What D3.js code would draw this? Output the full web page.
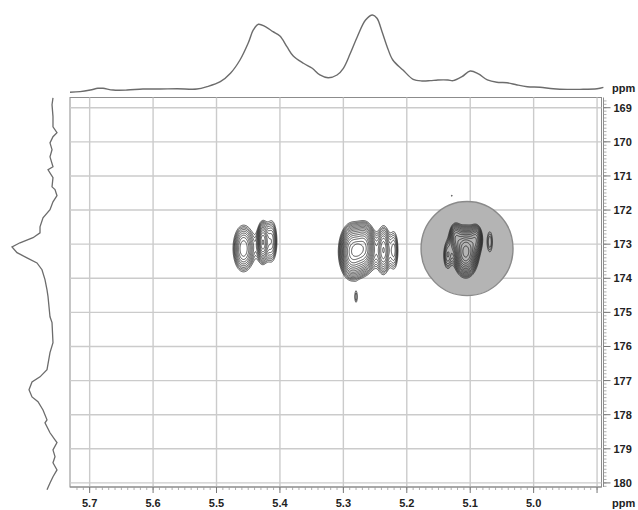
<!DOCTYPE html>
<html>
<head>
<meta charset="utf-8">
<script src="https://cdn.jsdelivr.net/npm/d3@7"></script>
<style>
  html, body { margin: 0; padding: 0; background: #fff; }
  svg { display: block; }
  text { font-family: "Liberation Sans", Arial, sans-serif; font-weight: bold; font-size: 11px; fill: #222; }
</style>
</head>
<body>
<svg id="chart" width="638" height="510"></svg>
<script>
// 1H chemical shift (ppm) gridlines / tick labels
const xTickValues = [5.7, 5.6, 5.5, 5.4, 5.3, 5.2, 5.1, 5.0];
// 13C chemical shift (ppm) gridlines / tick labels
const yTickValues = [169, 170, 171, 172, 173, 174, 175, 176, 177, 178, 179, 180];

// 1H projection (top): ppm and relative intensity
const topPpm = [5.731, 5.715, 5.699, 5.687, 5.679, 5.663, 5.641, 5.616, 5.589, 5.562, 5.531, 5.515, 5.494, 5.478, 5.463, 5.450, 5.442, 5.434, 5.423, 5.411, 5.400, 5.389, 5.379, 5.363, 5.349, 5.337, 5.324, 5.310, 5.300, 5.289, 5.278, 5.265, 5.254, 5.247, 5.239, 5.231, 5.222, 5.206, 5.190, 5.176, 5.163, 5.151, 5.135, 5.127, 5.113, 5.100, 5.087, 5.073, 5.058, 5.042, 5.026, 5.010, 4.990, 4.969, 4.947, 4.927, 4.900, 4.890];
const topIntensity = [0.9, 1.7, 3.8, 6.0, 6.0, 3.8, 3.8, 5.1, 5.1, 5.5, 5.1, 8.1, 14.5, 25.3, 42.3, 64.1, 80.8, 88.1, 85.0, 78.6, 73.1, 59.4, 47.4, 38.1, 31.7, 23.1, 19.6, 23.1, 31.7, 50.9, 72.2, 93.6, 100, 95.8, 78.6, 59.4, 42.3, 29.5, 17.6, 15.4, 15.8, 16.7, 16.7, 15.8, 20.9, 28.2, 24.4, 16.7, 13.7, 13.2, 10.3, 8.1, 7.3, 5.5, 4.7, 4.7, 5.5, 7.3];

// 13C projection (left): ppm and relative intensity
const leftPpm = [168.71, 168.91, 169.26, 169.56, 169.73, 169.85, 170.03, 170.23, 170.44, 170.73, 170.82, 171.05, 171.32, 171.40, 171.58, 171.76, 171.99, 172.23, 172.49, 172.67, 172.81, 172.96, 173.08, 173.25, 173.40, 173.55, 173.75, 174.04, 174.34, 174.54, 175.13, 175.30, 175.89, 176.18, 176.68, 176.89, 177.04, 177.27, 177.48, 177.62, 177.86, 178.15, 178.24, 178.53, 178.74, 178.82, 179.03, 179.23, 179.41, 179.62, 179.82, 180.00, 180.20];
const leftIntensity = [10.9, 13.0, 10.9, 10.9, 2.2, 10.9, 17.4, 13.0, 17.4, 10.9, 21.7, 10.9, 13.0, 6.5, 2.2, 10.9, 17.4, 32.6, 39.1, 39.1, 54.3, 82.6, 100, 89.1, 67.4, 45.7, 34.8, 28.3, 23.9, 21.7, 17.4, 13.0, 10.9, 17.4, 23.9, 39.1, 56.5, 63.0, 56.5, 43.5, 32.6, 23.9, 28.3, 17.4, 6.5, 2.2, 10.9, 6.5, 10.9, 2.2, 10.9, 17.4, 23.9];

// 2D cross peaks: 1H ppm, 13C ppm, 1H width, 13C width, height
const peakH =      [5.458, 5.427, 5.413, 5.434, 5.286, 5.266, 5.278, 5.236, 5.220, 5.245, 5.280, 5.107, 5.136, 5.090, 5.124, 5.069, 5.129];
const peakC =      [173.13, 172.93, 172.90, 173.08, 173.22, 173.10, 173.16, 173.16, 173.18, 173.22, 174.56, 173.22, 173.33, 172.82, 172.75, 172.93, 171.58];
const peakWH =     [0.0102, 0.0050, 0.0060, 0.0150, 0.0113, 0.0088, 0.0040, 0.0060, 0.0050, 0.0120, 0.0025, 0.0110, 0.0050, 0.0060, 0.0060, 0.0044, 0.0015];
const peakWC =     [0.43, 0.35, 0.43, 0.45, 0.44, 0.41, 0.12, 0.45, 0.43, 0.45, 0.20, 0.40, 0.32, 0.25, 0.25, 0.32, 0.04];
const peakHeight = [1.0, 1.2, 0.7, 0.2, 2.0, 1.5, 0.4, 0.8, 0.6, 0.35, 0.38, 2.0, 0.55, 0.8, 0.7, 0.45, 0.33];

// contour levels
const contourLevels = [0.3, 0.35, 0.4, 0.46, 0.53, 0.61, 0.7, 0.8, 0.92, 1.06, 1.22, 1.4, 1.6, 1.85, 2.1];

// highlighted region (1H ppm, 13C ppm, radii)
const markH = 5.105, markC = 173.13, markRH = 0.0725, markRC = 1.38;

const svg = d3.select("#chart");

// plot frame
const fL = 70, fR = 601.5, fT = 97.5, fB = 487;
const x = d3.scaleLinear().domain([5.731, 4.893]).range([fL, fR]);
const y = d3.scaleLinear().domain([168.7, 180.12]).range([fT, fB]);

// projection scales
const topY = d3.scaleLinear().domain([0, 100]).range([93, 15]);
const leftX = d3.scaleLinear().domain([0, 100]).range([58, 12]);

const gridColor = "#cbcbcb";

// frame background
svg.append("rect").attr("x", fL).attr("y", fT).attr("width", fR - fL).attr("height", fB - fT)
  .attr("fill", "#fff").attr("stroke", "#8c8c8c").attr("stroke-width", 1);

// gridlines
const grid = svg.append("g");
grid.selectAll("line.v").data(xTickValues.concat([4.9])).join("line")
  .attr("x1", d => x(d)).attr("x2", d => x(d)).attr("y1", fT).attr("y2", fB)
  .attr("stroke", gridColor).attr("stroke-width", 1.4);
grid.selectAll("line.h").data(yTickValues).join("line")
  .attr("y1", d => y(d)).attr("y2", d => y(d)).attr("x1", fL).attr("x2", fR)
  .attr("stroke", gridColor).attr("stroke-width", 1.4);

// highlighted region
svg.append("ellipse")
  .attr("cx", x(markH)).attr("cy", y(markC))
  .attr("rx", Math.abs(x(markH + markRH) - x(markH)))
  .attr("ry", Math.abs(y(markC + markRC) - y(markC)))
  .attr("fill", "#b4b4b4").attr("stroke", "#8a8a8a").attr("stroke-width", 1.4);

// 2D intensity grid sampled at half-pixel resolution
const res = 2;
const gw = Math.ceil((fR - fL) * res), gh = Math.ceil((fB - fT) * res);
const values = new Float64Array(gw * gh);
for (let k = 0; k < peakH.length; k++) {
  const x0 = Math.max(0, Math.floor((x(peakH[k] + 5 * peakWH[k]) - fL) * res));
  const x1 = Math.min(gw - 1, Math.ceil((x(peakH[k] - 5 * peakWH[k]) - fL) * res));
  const y0 = Math.max(0, Math.floor((y(peakC[k] - 5 * peakWC[k]) - fT) * res));
  const y1 = Math.min(gh - 1, Math.ceil((y(peakC[k] + 5 * peakWC[k]) - fT) * res));
  for (let j = y0; j <= y1; j++) {
    const c = y.invert(fT + (j + 0.5) / res);
    const dc = (c - peakC[k]) / peakWC[k];
    for (let i = x0; i <= x1; i++) {
      const h = x.invert(fL + (i + 0.5) / res);
      const dh = (h - peakH[k]) / peakWH[k];
      values[j * gw + i] += peakHeight[k] * Math.exp(-0.5 * (dh * dh + dc * dc));
    }
  }
}
const contours = d3.contours().size([gw, gh]).thresholds(contourLevels)(values);
const toScreen = d3.geoTransform({
  point: function(px, py) {
    this.stream.point(x(x.invert(fL + px / res)), y(y.invert(fT + py / res)));
  }
});
svg.append("g").selectAll("path").data(contours).join("path")
  .attr("d", d3.geoPath(toScreen))
  .attr("fill", "none").attr("stroke", "#222").attr("stroke-width", 0.8);

// right axis (13C)
const yAxisG = svg.append("g").attr("transform", `translate(${fR + 2},0)`);
yAxisG.append("line").attr("x1", 0).attr("x2", 0).attr("y1", fT).attr("y2", fB)
  .attr("stroke", "#8c8c8c").attr("stroke-width", 1);
const yMinor = d3.range(168.8, 180.11, 0.1);
yAxisG.selectAll("line.minor").data(yMinor).join("line")
  .attr("x1", 0).attr("x2", 3).attr("y1", d => y(d)).attr("y2", d => y(d))
  .attr("stroke", "#9a9a9a").attr("stroke-width", 0.8);
yAxisG.selectAll("line.major").data(yTickValues).join("line")
  .attr("x1", 0).attr("x2", 7).attr("y1", d => y(d)).attr("y2", d => y(d))
  .attr("stroke", "#777").attr("stroke-width", 1);
yAxisG.selectAll("text").data(yTickValues).join("text")
  .attr("x", 10).attr("y", d => y(d)).attr("dy", "0.36em").text(d => d);

// bottom axis (1H)
const xAxisG = svg.append("g");
xAxisG.append("line").attr("x1", fL).attr("x2", fR).attr("y1", fB).attr("y2", fB)
  .attr("stroke", "#8c8c8c").attr("stroke-width", 1);
const xMinor = d3.range(5.72, 4.895, -0.01);
xAxisG.selectAll("line.minor").data(xMinor).join("line")
  .attr("x1", d => x(d)).attr("x2", d => x(d)).attr("y1", fB).attr("y2", fB + 3)
  .attr("stroke", "#9a9a9a").attr("stroke-width", 0.8);
xAxisG.selectAll("line.major").data(xTickValues.concat([4.9])).join("line")
  .attr("x1", d => x(d)).attr("x2", d => x(d)).attr("y1", fB).attr("y2", fB + 6)
  .attr("stroke", "#777").attr("stroke-width", 1);
xAxisG.selectAll("text").data(xTickValues).join("text")
  .attr("x", d => x(d)).attr("y", 507).attr("text-anchor", "middle").text(d => d.toFixed(1));

// axis unit labels
svg.append("text").attr("x", 612).attr("y", 507).text("ppm");
svg.append("text").attr("x", 612).attr("y", 92).text("ppm");

// projections
svg.append("path")
  .datum(topPpm.map((p, i) => [p, topIntensity[i]]))
  .attr("d", d3.line().x(d => x(d[0])).y(d => topY(d[1])).curve(d3.curveCatmullRom))
  .attr("fill", "none").attr("stroke", "#6c6c6c").attr("stroke-width", 1.4);
svg.append("path")
  .datum(leftPpm.map((p, i) => [p, leftIntensity[i]]))
  .attr("d", d3.line().x(d => leftX(d[1])).y(d => y(d[0])).curve(d3.curveLinear))
  .attr("fill", "none").attr("stroke", "#6c6c6c").attr("stroke-width", 1.3);
</script>
</body>
</html>
